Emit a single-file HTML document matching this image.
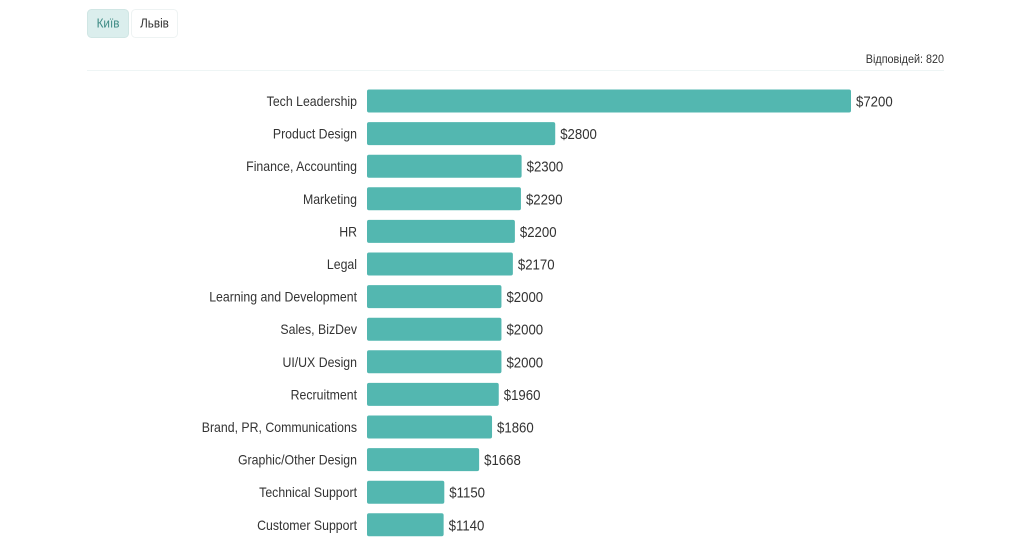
<!DOCTYPE html>
<html><head><meta charset="utf-8"><style>
body{margin:0;background:#fff;width:1024px;height:555px;overflow:hidden;font-family:"Liberation Sans",sans-serif;}
svg{position:absolute;left:0;top:0}
</style></head><body>
<svg id="c" width="1024" height="555">
  <rect x="87.5" y="9.5" width="41" height="28" rx="4" fill="#dbeeed" stroke="#d0e6e4"/>
  <text transform="translate(108,27.5) scale(0.9,1)" text-anchor="middle" font-size="13" fill="#3d8a84">Київ</text>
  <rect x="131.5" y="9.5" width="46" height="28" rx="4" fill="#fff" stroke="#eef3f3"/>
  <text transform="translate(154.5,27.5) scale(0.9,1)" text-anchor="middle" font-size="13" fill="#333">Львів</text>
  <text transform="translate(944,63) scale(0.9,1)" text-anchor="end" font-size="12" fill="#333">Відповідей: 820</text>
  <line x1="87" y1="70.5" x2="944" y2="70.5" stroke="#eef5f5"/>
  <g id="bars"></g>
</svg>
<script>
const categories=["Tech Leadership","Product Design","Finance, Accounting","Marketing","HR","Legal","Learning and Development","Sales, BizDev","UI/UX Design","Recruitment","Brand, PR, Communications","Graphic/Other Design","Technical Support","Customer Support"];
const values=[7200,2800,2300,2290,2200,2170,2000,2000,2000,1960,1860,1668,1150,1140];
const x0=367, xMax=7200, xW=484;
const xs=v=>v/xMax*xW;
const ys=i=>101+i*32.6;
const g=document.getElementById('bars');
const NS="http://www.w3.org/2000/svg";
categories.forEach((c,i)=>{
  const y=ys(i), w=xs(values[i]);
  const r=document.createElementNS(NS,'rect');
  r.setAttribute('x',x0);r.setAttribute('y',y-11.5);r.setAttribute('width',w);r.setAttribute('height',23);r.setAttribute('rx',2);r.setAttribute('fill','#53b7b0');
  
  
  g.appendChild(r);
  const t=document.createElementNS(NS,'text');
  t.setAttribute('transform',`translate(357,${y+5}) scale(0.88,1)`);t.setAttribute('text-anchor','end');t.setAttribute('font-size','14');t.setAttribute('fill','#333');
  t.textContent=c;
  
  
  g.appendChild(t);
  const v=document.createElementNS(NS,'text');
  v.setAttribute('transform',`translate(${x0+w+5},${y+5.5}) scale(0.88,1)`);v.setAttribute('font-size','15');v.setAttribute('fill','#333');
  v.textContent='$'+values[i];
  
  
  g.appendChild(v);
});
</script>
</body></html>
